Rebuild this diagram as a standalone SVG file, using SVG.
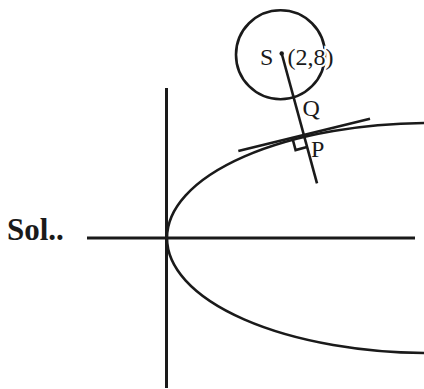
<svg xmlns="http://www.w3.org/2000/svg" width="424" height="389" viewBox="0 0 424 389">
<style>
.ln{fill:none;stroke:#1a1a1a;stroke-width:2.6;stroke-linecap:butt}
.ax{fill:none;stroke:#1a1a1a;stroke-width:3}
.lbl{font-family:"Liberation Serif","Times New Roman",serif;font-size:24px;fill:#1a1a1a}
.sol{font-family:"Liberation Serif","Times New Roman",serif;font-size:31px;font-weight:bold;fill:#1a1a1a}
</style>
<rect width="424" height="389" fill="#fff"/>
<g id="axes">
<line class="ax" x1="166.5" y1="88" x2="166.5" y2="388"/>
<line class="ax" x1="87" y1="238" x2="415" y2="238"/>
</g>
<g id="parabola">
<ellipse class="ln" cx="430" cy="238" rx="263" ry="115"/>
</g>
<g id="circle">
<circle class="ln" cx="280.5" cy="54.7" r="44.5"/>
<circle cx="281.7" cy="53.5" r="2.2" fill="#1a1a1a"/>
</g>
<g id="connectors">
<line class="ln" x1="281.7" y1="53.5" x2="317" y2="183.3"/>
<line class="ln" x1="238.3" y1="151" x2="370" y2="118.7"/>
<path class="ln" stroke-width="2" d="M292.5,138.5 L295.6,150.1 L307,147"/>
</g>
<g id="labels">
<text class="lbl" x="260" y="65">S</text>
<text class="lbl" x="287.5" y="65" stroke="#fff" stroke-width="4" paint-order="stroke">(2,8)</text>
<text class="lbl" x="302.5" y="116">Q</text>
<text class="lbl" x="311" y="157">P</text>
<text class="sol" x="7" y="240">Sol..</text>
</g>
</svg>
